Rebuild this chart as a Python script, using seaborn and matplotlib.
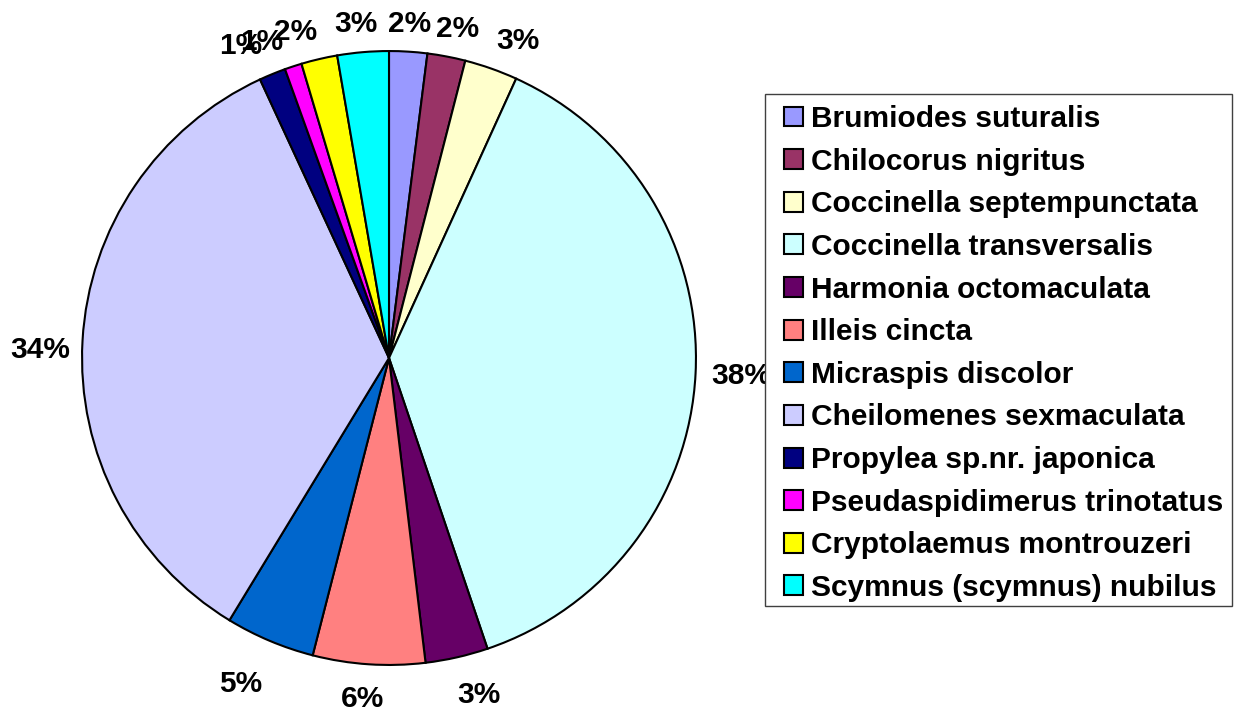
import matplotlib
matplotlib.use("Agg")
import matplotlib.pyplot as plt
from matplotlib.patches import Rectangle
import seaborn as sns
import numpy as np

# set seaborn style, then the font (set_style resets font.family)
sns.set_style("white")
plt.rcParams["font.family"] = ["Liberation Sans", "DejaVu Sans"]
plt.rcParams["font.weight"] = "bold"
plt.rcParams["text.color"] = "black"

# species and their share (%), clockwise from 12 o'clock
species = ["Brumiodes suturalis", "Chilocorus nigritus", "Coccinella septempunctata",
           "Coccinella transversalis", "Harmonia octomaculata", "Illeis cincta",
           "Micraspis discolor", "Cheilomenes sexmaculata", "Propylea sp.nr. japonica",
           "Pseudaspidimerus trinotatus", "Cryptolaemus montrouzeri", "Scymnus (scymnus) nubilus"]
shares = [2.0, 2.0, 2.8, 38.0, 3.3, 5.9, 4.7, 34.4, 1.4, 0.9, 1.9, 2.7]
colors = ["#9999FF", "#993366", "#FFFFCC", "#CCFFFF", "#660066", "#FF8080",
          "#0066CC", "#CCCCFF", "#000080", "#FF00FF", "#FFFF00", "#00FFFF"]

# small hand nudges (px, right / down) so the crowded labels sit like the original
label_nudge = [(0, 0), (5, 2), (16, 4), (0, 0), (15, 7), (-4, 7),
               (-16, 12), (3, 12), (-19, 3), (-21, 7), (-17, 3), (-5, 0)]

palette = sns.color_palette(colors)
FS = 21.5
W, H = 1241, 719

fig = plt.figure(figsize=(W / 100, H / 100), dpi=100)
L = 1.15
ax = fig.add_axes([36 / W, 8 / H, 706 / W, 706 / H])

wedges, texts, autotexts = ax.pie(
    shares, colors=palette, startangle=90, counterclock=False,
    autopct="%1.0f%%", pctdistance=1.12, radius=1.0,
    wedgeprops=dict(edgecolor="black", linewidth=1.5),
    textprops=dict(fontsize=FS, fontweight="bold", color="black"))
ax.set_xlim(-L, L)
ax.set_ylim(-L, L)
ax.set_aspect("equal")

# push each percentage label out so its box sits just off the rim (Excel style)
fig.canvas.draw()
r = fig.canvas.get_renderer()
px_per_unit = ax.transData.transform((1, 0))[0] - ax.transData.transform((0, 0))[0]
for w, t, (nx, ny) in zip(wedges, autotexts, label_nudge):
    theta = np.deg2rad((w.theta1 + w.theta2) / 2)
    bb = t.get_window_extent(r)
    hw = bb.width / 2 / px_per_unit
    hh = bb.height / 2 / px_per_unit * 0.8
    d = 1.05 + hw * abs(np.cos(theta)) + hh * abs(np.sin(theta))
    t.set_position((d * np.cos(theta) + nx / px_per_unit,
                    d * np.sin(theta) - ny / px_per_unit))
    t.set_clip_on(False)

# legend frame drawn by hand (covers the 38% label like the original)
frame = Rectangle((765 / W, 1 - 606 / H), 467 / W, 512 / H, transform=fig.transFigure,
                  facecolor="white", edgecolor="#404040", linewidth=1.0, zorder=4)
fig.patches.append(frame)

leg = fig.legend(wedges, species, loc="upper left",
                 bbox_to_anchor=(784 / W, 1 - 105 / H), borderaxespad=0,
                 prop=dict(size=FS, weight="bold"), frameon=False,
                 handlelength=0.65, handleheight=0.65, handletextpad=0.26,
                 labelspacing=0.49, borderpad=0)
leg.set_zorder(5)

fig.savefig("out.png", dpi=100)
